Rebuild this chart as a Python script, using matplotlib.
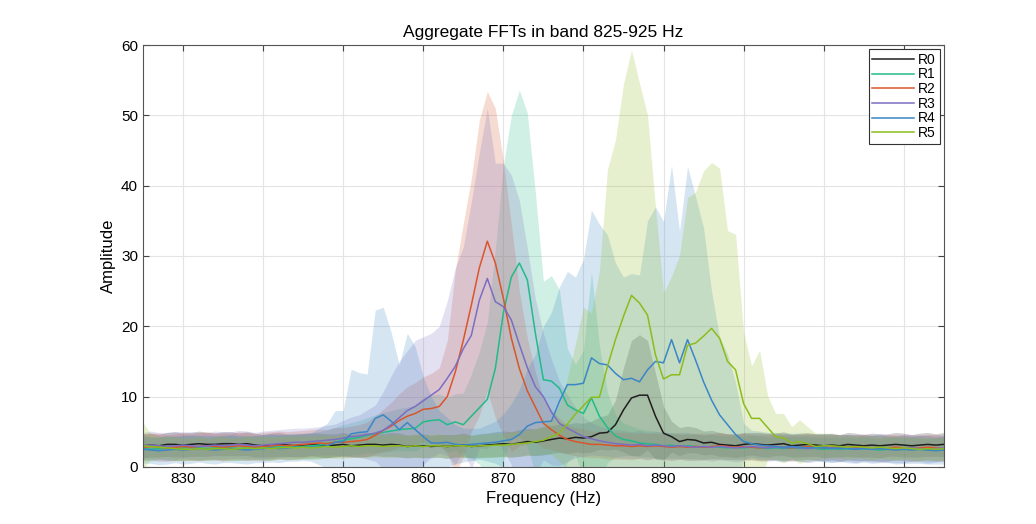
import numpy as np
import matplotlib
matplotlib.use("Agg")
import matplotlib.pyplot as plt

plt.rcParams['font.family'] = ['Liberation Sans', 'DejaVu Sans']

# frequency bins, 1 Hz apart
freq = np.arange(825, 926)

# mean amplitude per recording (825..925 Hz)
r0_mean = [3.0, 3.1, 3.0, 3.2, 3.2, 3.1, 3.2, 3.3, 3.2, 3.2,
           3.3, 3.3, 3.2, 3.3, 3.1, 3.0, 3.1, 3.2, 3.1, 3.0,
           3.1, 3.2, 3.1, 3.0, 3.1, 3.2, 3.0, 3.1, 3.2, 3.2,
           3.1, 3.2, 3.1, 2.9, 3.0, 3.0, 2.9, 3.0, 2.9, 3.0,
           3.1, 2.9, 3.0, 3.1, 3.2, 3.3, 3.2, 3.4, 3.6, 3.5,
           3.7, 3.9, 4.1, 4.0, 4.2, 4.1, 4.3, 4.8, 4.9, 6.0,
           8.1, 9.8, 10.2, 10.2, 7.2, 4.8, 4.3, 3.6, 3.9, 3.8,
           3.4, 3.5, 3.2, 3.1, 3.0, 3.2, 3.3, 3.2, 3.1, 3.2,
           3.3, 3.0, 3.1, 3.2, 3.1, 3.0, 3.1, 3.0, 3.2, 3.1,
           3.0, 3.1, 3.0, 3.1, 3.2, 3.1, 3.0, 3.1, 3.2, 3.1, 3.2]
r0_std = [1.7, 1.7, 1.6, 1.7, 1.8, 1.7, 1.7, 1.8, 1.7, 1.6,
          1.7, 1.7, 1.6, 1.7, 1.7, 1.6, 1.7, 1.7, 1.6, 1.6,
          1.7, 1.6, 1.7, 1.7, 1.6, 1.7, 1.6, 1.7, 1.7, 1.6,
          1.6, 1.7, 1.7, 1.6, 1.6, 1.7, 1.6, 1.6, 1.7, 1.6,
          1.7, 1.6, 1.7, 1.7, 1.8, 1.8, 1.8, 1.9, 1.9, 1.9,
          2.0, 2.0, 2.0, 2.1, 2.1, 2.1, 2.2, 2.3, 2.5, 3.5,
          6.0, 8.2, 8.6, 7.8, 6.1, 3.8, 2.2, 2.0, 1.9, 1.8,
          1.7, 1.7, 1.7, 1.6, 1.7, 1.7, 1.6, 1.7, 1.7, 1.6,
          1.7, 1.6, 1.7, 1.7, 1.6, 1.7, 1.7, 1.6, 1.7, 1.7,
          1.6, 1.7, 1.7, 1.6, 1.7, 1.7, 1.6, 1.7, 1.7, 1.6, 1.7]

r1_mean = [2.6, 2.5, 2.6, 2.7, 2.6, 2.7, 2.8, 2.7, 2.6, 2.7,
           2.8, 2.7, 2.6, 2.7, 2.8, 2.7, 2.8, 2.9, 2.8, 2.9,
           2.9, 3.0, 3.1, 3.3, 3.5, 3.8, 4.0, 4.2, 4.5, 4.7,
           4.9, 5.1, 5.3, 5.4, 5.5, 6.4, 6.6, 6.7, 6.0, 6.4,
           6.0, 7.2, 8.4, 9.6, 14.0, 21.9, 27.0, 29.0, 26.6, 19.0,
           12.4, 12.2, 11.2, 8.8, 8.1, 7.6, 9.8, 7.2, 5.6, 4.4,
           3.9, 3.7, 3.4, 3.3, 3.2, 3.0, 3.1, 2.9, 3.0, 2.9,
           2.8, 2.9, 2.8, 2.7, 2.8, 2.7, 2.8, 2.7, 2.6, 2.7,
           2.6, 2.7, 2.6, 2.7, 2.6, 2.5, 2.6, 2.5, 2.6, 2.5,
           2.6, 2.5, 2.4, 2.5, 2.6, 2.5, 2.6, 2.5, 2.4, 2.5, 2.6]
r1_std = [1.7, 1.7, 1.6, 1.7, 1.7, 1.8, 1.7, 1.7, 1.6, 1.7,
          1.7, 1.8, 1.7, 1.7, 1.7, 1.8, 1.8, 1.7, 1.8, 1.8,
          1.8, 1.9, 1.9, 2.0, 2.1, 2.2, 2.3, 2.4, 2.5, 2.7,
          2.8, 2.9, 3.0, 3.1, 3.3, 3.5, 3.6, 3.7, 3.9, 4.0,
          4.5, 6.0, 8.0, 11.0, 17.0, 21.0, 23.0, 24.6, 23.7, 20.0,
          14.0, 15.0, 14.0, 8.0, 6.5, 9.0, 18.0, 10.0, 5.0, 3.0,
          2.3, 2.1, 2.0, 1.9, 1.9, 1.8, 1.8, 1.7, 1.8, 1.7,
          1.7, 1.7, 1.6, 1.7, 1.7, 1.6, 1.7, 1.7, 1.6, 1.7,
          1.7, 1.6, 1.7, 1.6, 1.6, 1.7, 1.6, 1.7, 1.6, 1.6,
          1.7, 1.6, 1.6, 1.7, 1.6, 1.6, 1.7, 1.6, 1.6, 1.7, 1.6]

r2_mean = [2.8, 2.9, 2.8, 2.7, 2.8, 2.9, 2.8, 2.9, 3.0, 2.9,
           2.8, 2.9, 3.0, 2.9, 2.8, 2.9, 3.0, 3.1, 3.0, 3.1,
           3.2, 3.3, 3.4, 3.3, 3.5, 3.5, 3.6, 3.7, 3.9, 4.5,
           5.2, 5.8, 6.6, 7.2, 7.6, 8.2, 8.3, 8.6, 10.0, 13.5,
           18.0, 23.0, 28.3, 32.1, 29.0, 24.0, 18.3, 14.0, 10.8, 8.5,
           6.2, 5.3, 4.5, 3.9, 3.6, 3.4, 3.2, 3.2, 3.1, 3.0,
           3.0, 2.9, 3.0, 2.9, 3.0, 2.9, 2.8, 2.9, 2.8, 2.9,
           2.8, 2.9, 3.0, 2.9, 2.8, 2.9, 2.8, 2.7, 2.8, 2.9,
           2.8, 2.7, 2.8, 2.9, 2.8, 2.7, 2.8, 2.7, 2.8, 2.7,
           2.8, 2.7, 2.6, 2.7, 2.8, 2.7, 2.6, 2.7, 2.8, 2.7, 2.6]
r2_std = [1.9, 1.9, 2.0, 1.9, 1.9, 2.0, 1.9, 2.0, 2.0, 1.9,
          2.0, 1.9, 2.0, 2.0, 1.9, 2.0, 2.0, 2.0, 2.0, 2.0,
          2.0, 2.0, 2.0, 2.0, 2.1, 2.1, 2.2, 2.3, 2.5, 2.7,
          3.0, 3.4, 3.8, 4.2, 4.4, 4.6, 5.0, 5.5, 8.0, 14.5,
          16.6, 18.0, 21.0, 21.3, 22.0, 19.5, 16.2, 11.0, 7.5, 5.0,
          3.5, 2.8, 2.4, 2.1, 2.0, 2.0, 1.9, 1.9, 2.0, 1.9,
          1.9, 1.9, 1.8, 1.9, 1.8, 1.8, 1.9, 1.8, 1.8, 1.9,
          1.8, 1.8, 1.9, 1.8, 1.8, 1.9, 1.8, 1.8, 1.9, 1.8,
          1.8, 1.9, 1.8, 1.8, 1.9, 1.8, 1.8, 1.9, 1.8, 1.8,
          1.9, 1.8, 1.8, 1.9, 1.8, 1.8, 1.9, 1.8, 1.8, 1.9, 1.8]

r3_mean = [3.0, 3.1, 3.0, 2.9, 3.0, 3.1, 3.0, 2.9, 3.0, 3.1,
           3.0, 3.1, 3.2, 3.1, 3.0, 3.1, 3.2, 3.3, 3.4, 3.5,
           3.5, 3.6, 3.7, 3.8, 3.9, 4.1, 4.3, 4.4, 4.6, 4.8,
           5.2, 6.0, 7.0, 8.0, 8.6, 9.4, 10.2, 11.0, 12.6, 14.3,
           16.8, 18.7, 23.7, 26.8, 23.5, 22.8, 20.9, 17.4, 14.1, 11.4,
           10.0, 7.8, 6.2, 5.5, 4.9, 4.3, 4.0, 3.7, 3.5, 3.3,
           3.2, 3.1, 3.2, 3.0, 3.1, 3.0, 2.9, 3.0, 2.9, 2.8,
           2.9, 2.8, 2.9, 2.8, 2.7, 2.8, 2.9, 2.8, 2.7, 2.8,
           2.7, 2.8, 2.7, 2.6, 2.7, 2.8, 2.7, 2.6, 2.7, 2.6,
           2.7, 2.6, 2.7, 2.6, 2.5, 2.6, 2.7, 2.6, 2.5, 2.6, 2.7]
r3_std = [1.9, 2.0, 1.9, 2.0, 2.0, 1.9, 2.0, 2.0, 1.9, 2.0,
          2.0, 1.9, 2.0, 2.0, 1.9, 2.0, 2.0, 2.0, 2.0, 2.0,
          2.0, 2.0, 2.0, 2.1, 2.2, 2.5, 2.8, 3.0, 3.5, 4.0,
          5.5, 7.0, 8.0, 8.5, 9.4, 9.1, 8.8, 9.0, 11.0, 14.0,
          14.5, 19.0, 21.0, 24.2, 19.7, 20.4, 20.6, 20.5, 17.0, 12.5,
          9.0, 7.5, 6.0, 4.8, 3.6, 2.8, 2.3, 2.1, 2.0, 2.0,
          2.0, 1.9, 2.0, 1.9, 1.9, 2.0, 1.9, 1.9, 2.0, 1.9,
          1.9, 2.0, 1.9, 1.9, 2.0, 1.9, 1.9, 2.0, 1.9, 1.9,
          2.0, 1.9, 1.9, 2.0, 1.9, 1.9, 2.0, 1.9, 1.9, 2.0,
          1.9, 1.9, 2.0, 1.9, 1.9, 2.0, 1.9, 1.9, 2.0, 1.9, 1.9]

r4_mean = [2.5, 2.4, 2.3, 2.4, 2.5, 2.4, 2.5, 2.6, 2.5, 2.4,
           2.5, 2.6, 2.5, 2.4, 2.5, 2.6, 2.7, 2.6, 2.7, 2.8,
           2.8, 2.8, 2.9, 3.0, 3.5, 3.6, 4.7, 4.9, 5.0, 6.9,
           7.4, 6.5, 5.3, 6.3, 5.3, 4.3, 3.4, 3.4, 3.5, 3.2,
           3.1, 3.2, 3.3, 3.4, 3.5, 3.7, 3.9, 4.6, 5.8, 6.3,
           6.4, 6.5, 9.3, 11.7, 11.7, 11.9, 15.5, 14.7, 14.5, 13.3,
           12.4, 12.6, 12.1, 13.8, 15.0, 14.8, 18.1, 14.8, 18.1, 15.2,
           12.1, 9.5, 7.4, 6.0, 4.6, 3.6, 3.3, 3.1, 3.0, 2.9,
           2.8, 2.9, 2.8, 2.7, 2.8, 2.7, 2.6, 2.7, 2.6, 2.5,
           2.6, 2.5, 2.6, 2.5, 2.4, 2.5, 2.4, 2.5, 2.4, 2.3, 2.4]
r4_std = [2.0, 1.9, 2.0, 2.0, 1.9, 2.0, 2.0, 1.9, 2.0, 2.0,
          1.9, 2.0, 2.0, 2.0, 1.9, 2.0, 2.0, 2.0, 1.9, 2.0,
          1.9, 2.0, 2.6, 3.2, 4.5, 4.4, 9.2, 8.5, 8.2, 15.4,
          15.3, 12.6, 9.2, 12.7, 11.8, 8.5, 6.6, 4.6, 3.5, 2.8,
          2.4, 2.3, 2.2, 2.6, 3.0, 3.8, 5.1, 6.4, 8.2, 9.7,
          13.6, 15.5, 16.3, 16.1, 15.3, 17.6, 21.0, 19.8, 18.5, 15.7,
          14.6, 14.9, 15.2, 21.2, 22.0, 20.1, 24.8, 18.7, 24.6, 23.3,
          21.9, 15.5, 11.1, 10.0, 7.4, 2.6, 1.9, 2.0, 1.9, 2.0,
          2.0, 1.9, 2.0, 2.0, 1.9, 2.0, 2.0, 1.9, 2.0, 2.0,
          1.9, 2.0, 2.0, 1.9, 2.0, 2.0, 1.9, 2.0, 2.0, 1.9, 2.0]

r5_mean = [3.0, 2.9, 2.8, 2.7, 2.6, 2.5, 2.5, 2.6, 2.5, 2.6,
           2.6, 2.5, 2.6, 2.7, 2.6, 2.7, 2.6, 2.7, 2.8, 2.7,
           2.8, 2.7, 2.8, 2.9, 2.8, 2.9, 3.0, 2.9, 3.0, 3.0,
           2.9, 3.0, 3.0, 2.9, 3.0, 2.9, 3.0, 3.0, 2.9, 3.0,
           3.0, 2.9, 3.0, 3.0, 3.1, 3.1, 3.2, 3.3, 3.4, 3.6,
           3.8, 4.3, 4.8, 6.1, 7.5, 8.7, 9.9, 9.9, 14.3, 18.1,
           21.4, 24.4, 23.3, 21.6, 15.9, 12.5, 13.1, 13.1, 17.3, 17.6,
           18.6, 19.7, 18.3, 15.0, 13.8, 9.0, 6.9, 6.9, 5.6, 4.3,
           4.1, 3.4, 3.6, 3.3, 2.9, 3.0, 3.0, 2.9, 2.8, 2.9,
           2.8, 2.7, 2.8, 2.7, 2.6, 2.7, 2.6, 2.5, 2.6, 2.5, 2.6]
r5_std = [3.3, 1.8, 1.6, 1.6, 1.7, 1.6, 1.6, 1.7, 1.6, 1.6,
          1.7, 1.6, 1.6, 1.7, 1.6, 1.6, 1.7, 1.6, 1.6, 1.7,
          1.6, 1.6, 1.7, 1.6, 1.6, 1.7, 1.6, 1.6, 1.7, 1.6,
          1.6, 1.7, 1.6, 1.6, 1.7, 1.6, 1.6, 1.7, 1.6, 1.6,
          1.7, 1.6, 1.6, 1.7, 1.7, 1.7, 1.8, 1.8, 1.8, 1.9,
          2.0, 2.5, 4.0, 6.5, 10.0, 14.0, 12.0, 18.0, 28.0, 28.4,
          33.1, 34.9, 31.3, 28.5, 21.0, 12.2, 14.0, 17.0, 21.0, 21.5,
          23.5, 23.6, 24.2, 18.6, 19.3, 10.1, 7.5, 9.7, 4.5, 3.3,
          3.5, 2.3, 3.1, 2.4, 1.9, 1.8, 1.7, 1.6, 1.7, 1.6,
          1.6, 1.7, 1.6, 1.6, 1.7, 1.6, 1.6, 1.7, 1.6, 1.6, 1.7]

names = ['R0', 'R1', 'R2', 'R3', 'R4', 'R5']
means = [r0_mean, r1_mean, r2_mean, r3_mean, r4_mean, r5_mean]
stds = [r0_std, r1_std, r2_std, r3_std, r4_std, r5_std]
colors = ['#1e1e1e', '#22bb88', '#d9552c', '#7b6ec2', '#3b86c6', '#8cbc1c']

fig = plt.figure(figsize=(10.36, 5.24), dpi=100)
ax = fig.add_axes([0.138, 0.109, 0.773, 0.805])

for name, m, s, c in zip(names, means, stds, colors):
    m = np.array(m)
    s = np.array(s)
    ax.fill_between(freq, m - s, m + s, color=c, alpha=0.21, linewidth=0)
    ax.plot(freq, m, color=c, lw=1.1, label=name)

ax.set_xlim(825, 925)
ax.set_ylim(0, 60)
ax.set_xticks(np.arange(830, 925, 10))
ax.set_yticks(np.arange(0, 61, 10))
ax.grid(True, color='#e4e4e4', lw=0.8)
ax.set_axisbelow(True)
ax.tick_params(direction='in', top=True, right=True, labelsize=11, length=4,
               color='#444444')
for sp in ax.spines.values():
    sp.set_color('#555555')
    sp.set_linewidth(0.8)

ax.set_title('Aggregate FFTs in band 825-925 Hz', fontsize=12.5, pad=6)
ax.set_xlabel('Frequency (Hz)', fontsize=12)
ax.set_ylabel('Amplitude', fontsize=12)

leg = ax.legend(loc='upper right', fontsize=10, fancybox=False, framealpha=1,
                edgecolor='#333333', handlelength=3.0, handletextpad=0.3,
                labelspacing=0.05, borderpad=0.25, borderaxespad=0.3)
leg.get_frame().set_linewidth(0.8)

fig.savefig('out.png', dpi=100)
